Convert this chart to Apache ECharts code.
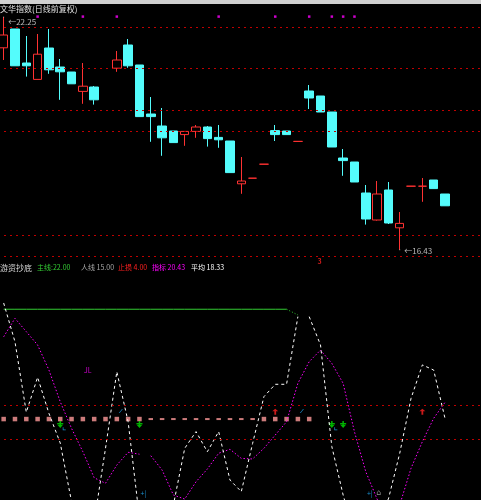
<!DOCTYPE html>
<html><head><meta charset="utf-8">
<script src="https://cdn.jsdelivr.net/npm/echarts@6/dist/echarts.min.js"></script>
<style>html,body{margin:0;padding:0;background:#000;overflow:hidden}#c{width:481px;height:500px}</style>
</head><body><div id="c"></div>
<script>
// ---------- data ----------
const categories = ['01','02','03','04','05','06','07','08','09','10','11','12','13','14','15','16','17','18','19','20','21','22','23','24','25','26','27','28','29','30','31','32','33','34','35','36','37','38','39','40','41','42','43'];
const openP  = [21.48,21.95,21.10,20.69,21.475,21.00,20.875,20.39,20.50,null,20.97,21.55,21.05,19.825,19.525,19.40,19.31,19.39,19.50,19.24,19.15,18.08,18.22,18.57,19.41,19.40,19.14,20.40,20.275,19.875,18.725,18.625,17.85,17.175,17.925,16.98,18.02,18.02,18.175,17.825];
const closeP = [21.80,21.03,21.03,21.32,20.93,20.88,20.58,20.52,20.18,null,21.175,21.03,19.76,19.76,19.23,19.11,19.39,19.50,19.21,19.18,18.36,18.15,18.22,18.57,19.31,19.31,19.14,20.225,19.875,19.00,18.66,18.125,17.20,17.825,17.10,17.09,18.02,18.02,17.96,17.53];
const lowP   = [21.175,21.03,20.76,20.69,20.83,20.18,20.58,20.08,20.06,null,20.88,20.98,19.76,19.13,18.78,19.11,19.03,19.23,19.01,18.98,18.36,17.83,18.22,18.57,19.15,19.31,19.14,19.95,19.875,19.00,18.28,18.125,17.06,17.16,17.075,16.43,18.02,17.63,17.96,17.53];
const highP  = [22.25,21.95,21.775,21.825,21.95,21.20,20.875,21.10,20.525,null,21.40,21.70,21.05,20.25,19.975,19.40,19.39,19.55,19.525,19.55,19.15,18.75,18.22,18.57,19.55,19.40,19.14,20.55,20.275,19.875,18.95,18.625,18.05,18.15,18.125,17.375,18.02,18.225,18.175,17.825];
const priceGridLevels = [21.99,20.97,19.92,19.39,16.79,16.275];
const topDotIdx = [3,7,10,19,24,27,29,30,31];
const topDotLevel = 22.26;
const highIdx = 0, lowIdx = 35;

const whiteLine = [103.7,83.3,46.2,64.6,45.6,30.0,-0.9,-13.2,-11.4,27.2,67.5,41.2,-9.6,-15.8,-13.2,-2.6,27.2,36.0,25.4,36.0,10.5,4.4,29.8,54.4,60.9,60.9,96.5,96.5,81.6,28.1,2.6,-18.4,-21.0,-7.9,0.5,24.6,53.5,71.1,68.4,43.0];
const whiteBreak = 26;   // segment 26 -> 27 not drawn
const magentaLine = [85.9,95.6,88.6,81.6,68.4,51.7,37.7,25.4,11.7,8.8,18.4,25.1,24.1,23.3,15.8,2.6,0.5,9.6,16.3,24.6,26.7,21.9,21.6,27.2,34.2,41.2,61.4,72.8,78.9,71.9,61.4,35.9,14.9,0.5,-11.6,-2.6,16.7,30.7,43.0,51.4];
const magentaBreak = 12; // segment 12 -> 13 not drawn
const greenLine = [100.4,100.4,100.4,100.4,100.4,100.4,100.4,100.4,100.4,100.4,100.4,100.4,100.4,100.4,100.4,100.4,100.4,100.4,100.4,100.4,100.4,100.4,100.4,100.4,100.4,100.4,97.4];
const supportLevel = 42.6;
const supportBigIdx = [0,1,2,3,4,5,6,7,8,9,10,11,12,23,24,25,26,27];
const supportSmallIdx = [13,14,15,16,17,18,19,20,21,22];
const lowerGridLevels = [49.8,31.9];
const greenDownAt = [[5,39.8],[12,39.8],[29,39.8],[30,39.8]];
const redUpAt = [[24,46.5],[37,46.5]];
const cyanHookAt = [[5,38.6],[29,38.6]];
const cyanSlashAt = [[10,46.8],[26,46.8]];
const cyanPlusAt = [[12,3.7],[32,3.7]];
const jlAt = [[7,68.4]];
const houseAt = [[33,4.2]];
const redThreeAt = [[28,125.8]];

// ---------- styles ----------
const RED = '#ff3232', CYAN = '#54fcfc', GRID = '#c00000';
const FONT = '"Noto Sans CJK SC","DejaVu Sans",sans-serif';

const kData = openP.map((o, i) => {
  if (o == null) return '-';
  const v = [o, closeP[i], lowP[i], highP[i]];
  if (o === closeP[i]) return {value: v, itemStyle: {color: RED, color0: RED, borderColor: RED, borderColor0: RED}};
  return v;
});
const seg = (arr, from, to) => arr.map((v, i) => (i >= from && i <= to) ? v : '-');
const pts = (idxs, lv) => idxs.map(i => [i, lv]);

const header = [
  {t: '游资抄底', c: '#d8d8d8', x: 0, s: 8},
  {t: '主线:22.00', c: '#33cc33', x: 37, s: 7},
  {t: '人线 15.00', c: '#a8a8a8', x: 81, s: 7},
  {t: '止损 4.00', c: '#ff2020', x: 118, s: 7},
  {t: '指标 20.43', c: '#ff00ff', x: 152, s: 7},
  {t: '平均 18.33', c: '#ffffff', x: 191, s: 7}
];

const chart = echarts.init(document.getElementById('c'), null, {renderer: 'canvas'});
const lineCommon = {type: 'line', xAxisIndex: 1, yAxisIndex: 1, symbol: 'none', showSymbol: false, clip: true, animation: false, connectNulls: false};
const mk = (data, extra) => Object.assign({type: 'scatter', xAxisIndex: 1, yAxisIndex: 1, data: data, animation: false, silent: true}, extra);

chart.setOption({
  backgroundColor: '#000',
  animation: false,
  title: [
    {text: '文华指数(日线前复权)', left: 0, top: 5, padding: 0, textStyle: {color: '#e0e0e0', fontSize: 8, fontWeight: 'normal', fontFamily: FONT}}
  ].concat(header.map(h => ({text: h.t, left: h.x, top: 264, padding: 0, textStyle: {color: h.c, fontSize: h.s, fontWeight: 'normal', fontFamily: FONT}}))),
  graphic: [{type: 'rect', shape: {x: 0, y: 0, width: 481, height: 4}, style: {fill: '#d0d0d0'}, silent: true}],
  grid: [
    {left: -2, top: 7, width: 486.6, height: 250, outerBoundsMode: 'none', containLabel: false},
    {left: -2, top: 253, width: 486.6, height: 247, outerBoundsMode: 'none', containLabel: false}
  ],
  xAxis: [
    {type: 'category', data: categories, gridIndex: 0, show: false, boundaryGap: true},
    {type: 'category', data: categories, gridIndex: 1, show: false, boundaryGap: true}
  ],
  yAxis: [
    {type: 'value', gridIndex: 0, min: 16.25, max: 22.5, show: false, splitLine: {show: false}},
    {type: 'value', gridIndex: 1, min: 0, max: 130, show: false, splitLine: {show: false}}
  ],
  series: [
    {
      type: 'candlestick', xAxisIndex: 0, yAxisIndex: 0, data: kData, barWidth: 9, animation: false,
      itemStyle: {color: '#000', color0: CYAN, borderColor: RED, borderColor0: CYAN, borderWidth: 1},
      markLine: {silent: true, symbol: 'none', label: {show: false}, animation: false,
        lineStyle: {color: GRID, type: [2, 4], width: 1},
        data: priceGridLevels.map(v => ({yAxis: v}))}
    },
    {type: 'scatter', xAxisIndex: 0, yAxisIndex: 0, data: [[highIdx, highP[highIdx]]], symbolSize: 1, itemStyle: {color: '#ddd'},
      label: {show: true, position: 'right', offset: [-1, 5], color: '#e0e0e0', fontSize: 8, fontFamily: FONT,
        formatter: p => '\u2190' + p.value[1].toFixed(2)}},
    {type: 'scatter', xAxisIndex: 0, yAxisIndex: 0, data: [[lowIdx, lowP[lowIdx]]], symbolSize: 1, itemStyle: {color: '#ddd'},
      label: {show: true, position: 'right', offset: [-1, 1], color: '#e0e0e0', fontSize: 8, fontFamily: FONT,
        formatter: p => '\u2190' + p.value[1].toFixed(2)}},
    {type: 'scatter', xAxisIndex: 0, yAxisIndex: 0, data: pts(topDotIdx, topDotLevel), symbol: 'rect', symbolSize: 2.5, itemStyle: {color: '#ff00ff'}},

    mk(pts(supportBigIdx, supportLevel), {symbol: 'rect', symbolSize: 4.5, itemStyle: {color: '#ff9a9a'},
      markLine: {silent: true, symbol: 'none', label: {show: false}, animation: false,
        lineStyle: {color: GRID, type: [2, 4], width: 1},
        data: lowerGridLevels.map(v => ({yAxis: v}))}}),
    mk(pts(supportSmallIdx, supportLevel), {symbol: 'rect', symbolSize: [4.5, 2], itemStyle: {color: '#ff9a9a'}}),

    Object.assign({}, lineCommon, {data: seg(greenLine, 0, 25), lineStyle: {color: '#33cc33', width: 1}}),
    Object.assign({}, lineCommon, {data: seg(greenLine, 25, 26), lineStyle: {color: '#33cc33', width: 1, type: [1, 2]}}),
    Object.assign({}, lineCommon, {data: seg(magentaLine, 0, magentaBreak), lineStyle: {color: '#ff00ff', width: 1, type: [1.5, 2]}}),
    Object.assign({}, lineCommon, {data: seg(magentaLine, magentaBreak + 1, 39), lineStyle: {color: '#ff00ff', width: 1, type: [1.5, 2]}}),
    Object.assign({}, lineCommon, {data: seg(whiteLine, 0, whiteBreak), lineStyle: {color: '#ffffff', width: 1, type: [3, 3]}}),
    Object.assign({}, lineCommon, {data: seg(whiteLine, whiteBreak + 1, 39), lineStyle: {color: '#ffffff', width: 1, type: [3, 3]}}),

    mk(greenDownAt, {symbol: 'path://M3,0 L5,0 L5,3 L8,3 L8,5 L5,5 L5,6 L7.5,6 L4,10 L0.5,6 L3,6 L3,5 L0,5 L0,3 L3,3 Z', symbolSize: [6, 7], itemStyle: {color: '#00e000'}}),
    mk(redUpAt, {symbol: 'path://M4,0 L8,4 L5.2,4 L5.2,9 L2.8,9 L2.8,4 L0,4 Z', symbolSize: [6, 6], itemStyle: {color: '#ff2020'}}),
    mk(cyanHookAt, {symbol: 'path://M0,0 L1,0 L1,3 L4,3 L4,4 L0,4 Z', symbolSize: [3, 3], symbolOffset: [4, 2], itemStyle: {color: '#20b0ff'}}),
    mk(cyanSlashAt, {symbol: 'path://M4,0 L5,0 L1,5 L0,5 Z', symbolSize: [4, 4], symbolOffset: [4, 0], itemStyle: {color: '#20b0ff'}}),
    mk(cyanPlusAt, {symbolSize: 0, label: {show: true, position: 'inside', offset: [4, 0], formatter: '+|', color: '#20b0ff', fontSize: 7, fontFamily: FONT}}),
    mk(jlAt, {symbolSize: 0, label: {show: true, position: 'inside', offset: [5, 0], formatter: 'JL', color: '#ff00ff', fontSize: 7, fontFamily: FONT}}),
    mk(houseAt, {symbolSize: 0, label: {show: true, position: 'inside', offset: [2, 0], formatter: '\u2302', color: '#b0b0b0', fontSize: 8, fontFamily: FONT}}),
    mk(redThreeAt, {symbolSize: 0, label: {show: true, position: 'inside', offset: [-1, 0], formatter: '3', color: '#ff2020', fontSize: 7, fontWeight: 'bold', fontFamily: FONT}})
  ]
});
</script></body></html>
